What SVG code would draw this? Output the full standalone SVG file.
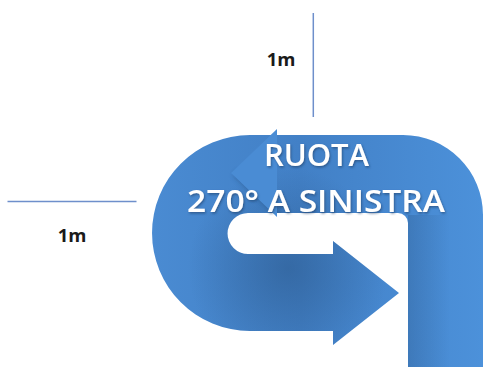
<svg xmlns="http://www.w3.org/2000/svg" width="483" height="367" viewBox="0 0 483 367">
<style>
.dim{stroke:#6E8FCB;stroke-width:1.5;fill:none}
.lbl{font-family:"Open Sans","DejaVu Sans",sans-serif;font-weight:700;font-size:18.5px;fill:#1a1a1a;text-anchor:middle}
.title{font-family:"Open Sans","DejaVu Sans",sans-serif;font-weight:600;font-size:31px;fill:#ffffff;text-anchor:middle}
</style>
<defs>
<path id="uturn" d="M408,367 L408,223 A10,10 0 0 0 398,213 L248,213 A20.5,20.5 0 0 0 248,254 L333,254 L333,241 L399,293 L333,345 L333,331 L250,331 A98,98 0 0 1 250,135 L403,135 A80,80 0 0 1 483,215 L483,367 Z"/>
<clipPath id="clipU"><use href="#uturn"/></clipPath>
<linearGradient id="band" x1="152" y1="0" x2="483" y2="0" gradientUnits="userSpaceOnUse">
<stop offset="0" stop-color="#4A8BD2"/>
<stop offset="0.45" stop-color="#4280C6"/>
<stop offset="1" stop-color="#4C91DA"/>
</linearGradient>
<radialGradient id="shade" cx="288" cy="268" r="100" gradientUnits="userSpaceOnUse">
<stop offset="0" stop-color="#2C5A8E" stop-opacity="0.6"/>
<stop offset="1" stop-color="#2C5A8E" stop-opacity="0"/>
</radialGradient>
<linearGradient id="stemShade" x1="408" y1="0" x2="450" y2="0" gradientUnits="userSpaceOnUse">
<stop offset="0" stop-color="#2C5A8E" stop-opacity="0.35"/>
<stop offset="1" stop-color="#2C5A8E" stop-opacity="0"/>
</linearGradient>
<filter id="ts" x="-10%" y="-30%" width="120%" height="160%">
<feDropShadow dx="1" dy="1.5" stdDeviation="1.2" flood-color="#1E3E66" flood-opacity="0.6"/>
</filter>
<filter id="blur" x="-20%" y="-20%" width="140%" height="140%">
<feGaussianBlur stdDeviation="2.5"/>
</filter>
</defs>

<g id="dimensions">
<line class="dim" x1="313.3" y1="13" x2="313.3" y2="117"/>
<line class="dim" x1="7.5" y1="201.5" x2="136.5" y2="201.5"/>
</g>

<g id="label-top"><text class="lbl" x="281" y="66">1m</text></g>
<g id="label-left"><text class="lbl" x="72" y="242">1m</text></g>

<g id="uturn-arrow">
<use href="#uturn" fill="url(#band)"/>
<g clip-path="url(#clipU)">
<rect x="150" y="130" width="333" height="237" fill="url(#shade)"/>
<rect x="408" y="215" width="60" height="152" fill="url(#stemShade)"/>
<polygon points="234,176 280,220 282,214 238,170" fill="#25507F" opacity="0.55" filter="url(#blur)"/>
</g>
<polygon points="231,173 277,129 277,217" fill="#4A8CD4"/>
</g>

<g id="title" filter="url(#ts)">
<text class="title" x="316.5" y="166">RUOTA</text>
<text class="title" x="316" y="212" textLength="258" lengthAdjust="spacingAndGlyphs">270° A SINISTRA</text>
</g>
</svg>
